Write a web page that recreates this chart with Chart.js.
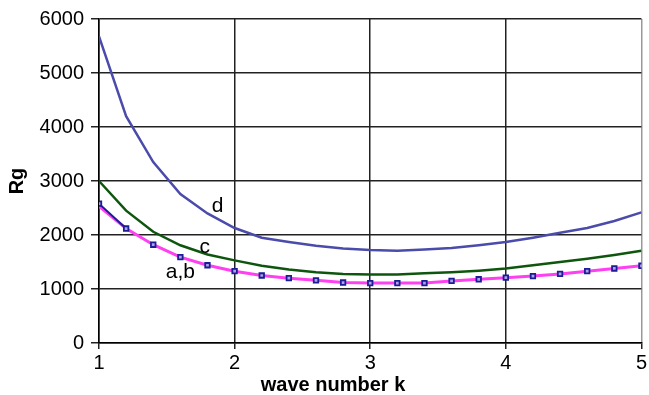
<!DOCTYPE html>
<html>
<head>
<meta charset="utf-8">
<script src="https://cdn.jsdelivr.net/npm/chart.js@4/dist/chart.umd.min.js"></script>
<style>
html,body{margin:0;padding:0;background:#fff;}
#wrap{width:649px;height:395px;}
</style>
</head>
<body>
<div id="wrap"><canvas id="c" width="649" height="395"></canvas></div>
<script>
const k = [1.0,1.2,1.4,1.6,1.8,2.0,2.2,2.4,2.6,2.8,3.0,3.2,3.4,3.6,3.8,4.0,4.2,4.4,4.6,4.8,5.0];
const seriesA = [2580,2120,1820,1590,1440,1330,1250,1200,1160,1120,1110,1110,1110,1150,1180,1210,1240,1280,1330,1380,1430];
const seriesB = [2530,2120,1820,1590,1440,1330,1250,1200,1160,1120,1110,1110,1110,1150,1180,1210,1240,1280,1330,1380,1430];
const seriesC = [3000,2450,2060,1810,1640,1530,1430,1360,1310,1280,1270,1270,1290,1310,1340,1380,1440,1500,1560,1630,1710];
const seriesD = [5680,4200,3350,2760,2400,2130,1950,1870,1800,1750,1720,1710,1730,1760,1810,1870,1950,2040,2130,2260,2420];
const xTicks = [1,2,3,4,5];
const yTicks = [0,1000,2000,3000,4000,5000,6000];
const xTitle = 'wave number k';
const yTitle = 'Rg';
const curveLabels = [
  {text:'d', x:1.875, y:2530},
  {text:'c', x:1.78, y:1770},
  {text:'a,b', x:1.60, y:1310}
];

const FONT = '"Liberation Sans", Arial, sans-serif';
const pts = arr => arr.map((v,i)=>({x:k[i], y:v}));
const NAVY = '#1c1c96', MAG = '#ff40f0';

const textPlugin = {
  id:'texts',
  afterDatasetsDraw(chart){
    const {ctx, scales:{x,y}} = chart;
    ctx.save();
    ctx.fillStyle = '#000';
    ctx.textAlign = 'center';
    ctx.textBaseline = 'middle';
    ctx.font = '21px ' + FONT;
    curveLabels.forEach(l=>ctx.fillText(l.text, x.getPixelForValue(l.x), y.getPixelForValue(l.y)));
    ctx.font = 'bold 20px ' + FONT;
    ctx.fillText(xTitle, 333, 385);
    ctx.translate(17, 181);
    ctx.rotate(-Math.PI/2);
    ctx.fillText(yTitle, 0, 0);
    ctx.restore();
  }
};

new Chart(document.getElementById('c'), {
  type:'line',
  data:{
    datasets:[
      {label:'d', data:pts(seriesD), borderColor:'#4b4bab', borderWidth:2.5, pointRadius:0, tension:0, order:4},
      {label:'c', data:pts(seriesC), borderColor:'#0e560e', borderWidth:2.5, pointRadius:0, tension:0, order:3},
      {label:'b', data:pts(seriesB), borderColor:MAG, borderWidth:3, pointRadius:0, tension:0, order:2},
      {label:'a', data:pts(seriesA), borderColor:NAVY, borderWidth:2, tension:0, order:1,
        segment:{borderColor: c => c.p0DataIndex===0 ? NAVY : 'rgba(0,0,0,0)'},
        pointStyle:'rect', pointRadius:3.2, pointBorderWidth:1.8, pointBorderColor:NAVY, pointBackgroundColor:'#b0a0e8'}
    ]
  },
  options:{
    responsive:false,
    animation:false,
    devicePixelRatio:1,
    layout:{padding:{left:0,right:6,top:18,bottom:0}},
    plugins:{legend:{display:false}, tooltip:{enabled:false}},
    scales:{
      x:{
        type:'linear', min:1, max:5,
        afterBuildTicks: s => { s.ticks = xTicks.map(v=>({value:v})); },
        afterFit: s => { s.height = 52; },
        border:{color:'#000', width:1.5},
        grid:{color: c => c.tick && c.tick.value===5 ? '#999' : '#222', lineWidth:1.5, tickLength:6, drawTicks:true, tickColor:'#222'},
        ticks:{color:'#000', padding:2, callback: v => String(v), font:{size:20, family:FONT}}
      },
      y:{
        min:0, max:6000,
        afterBuildTicks: s => { s.ticks = yTicks.map(v=>({value:v})); },
        afterFit: s => { s.width = 99; },
        border:{color:'#000', width:1.5},
        grid:{color:'#222', lineWidth:1.5, tickLength:8, tickColor:'#222'},
        ticks:{color:'#000', padding:7, callback: v => String(v), font:{size:20, family:FONT}}
      }
    }
  },
  plugins:[textPlugin]
});
</script>
</body>
</html>
